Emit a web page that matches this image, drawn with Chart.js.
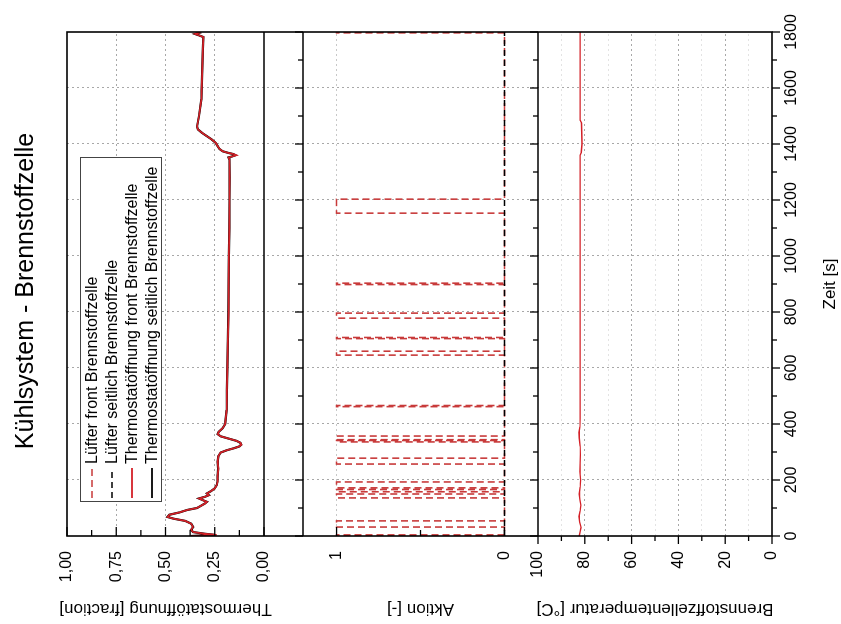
<!DOCTYPE html>
<html>
<head>
<meta charset="utf-8">
<script src="https://cdn.jsdelivr.net/npm/chart.js@4/dist/chart.umd.min.js"></script>
<style>
  html, body { margin: 0; padding: 0; background: #fff; overflow: hidden; }
  /* The figure is laid out upright (time running left to right) and then turned a quarter turn counter-clockwise */
  #stage {
    position: absolute; left: 0; top: 0; width: 624px; height: 841px;
    transform-origin: 0 0; transform: translate(0px, 624px) rotate(-90deg);
    font-family: "Liberation Sans", Arial, sans-serif; color: #000;
  }
  #c { position: absolute; left: 0; top: 0; }
  #titel {
    position: absolute; left: 133px; width: 400px; top: 9px;
    text-align: center; font-size: 25px; line-height: 30px; white-space: nowrap;
  }
  #legende {
    position: absolute; left: 122px; top: 80px; width: 345px; height: 82px;
    border: 1px solid #444; background: #fff; box-sizing: border-box; padding-top: 1px;
  }
  .eintrag { height: 20px; display: flex; align-items: center; font-size: 16px; white-space: nowrap; }
  .eintrag svg { margin-left: 3px; margin-right: 4px; flex: none; }
</style>
</head>
<body>
<div id="stage">
  <canvas id="c" width="624" height="841"></canvas>
  <div id="titel">Kühlsystem - Brennstoffzelle</div>
  <div id="legende"></div>
</div>
<script>
// ---- Messdaten ----
// Thermostatöffnung [fraction] über der Zeit [s]
const thermoZeit = [0, 4, 8, 14, 22, 32, 44, 54, 62, 68, 76, 84, 93, 100, 108, 116, 122, 128, 134, 140, 146, 152, 160, 170, 182, 195, 215, 240, 265, 285, 298, 306, 314, 320, 326, 333, 340, 348, 356, 364, 372, 385, 400, 450, 520, 600, 700, 800, 900, 1000, 1100, 1200, 1280, 1345, 1352, 1356, 1360, 1364, 1368, 1374, 1382, 1392, 1404, 1416, 1428, 1440, 1452, 1462, 1500, 1560, 1620, 1680, 1740, 1782, 1788, 1793, 1797, 1800];
const thermoFront = [0.37, 0.24, 0.30, 0.36, 0.37, 0.36, 0.37, 0.40, 0.46, 0.49, 0.48, 0.43, 0.39, 0.34, 0.32, 0.30, 0.29, 0.31, 0.33, 0.30, 0.28, 0.29, 0.27, 0.25, 0.24, 0.235, 0.235, 0.232, 0.235, 0.232, 0.22, 0.19, 0.15, 0.125, 0.115, 0.12, 0.14, 0.18, 0.22, 0.235, 0.23, 0.21, 0.197, 0.19, 0.188, 0.186, 0.183, 0.18, 0.18, 0.178, 0.176, 0.175, 0.175, 0.176, 0.18, 0.16, 0.14, 0.155, 0.18, 0.21, 0.225, 0.235, 0.245, 0.265, 0.29, 0.315, 0.335, 0.34, 0.33, 0.318, 0.315, 0.313, 0.31, 0.308, 0.33, 0.35, 0.33, 0.34];
const thermoSeitlich = [0.37, 0.25, 0.30, 0.36, 0.37, 0.36, 0.37, 0.40, 0.46, 0.49, 0.48, 0.43, 0.39, 0.34, 0.32, 0.30, 0.29, 0.31, 0.33, 0.30, 0.28, 0.29, 0.27, 0.25, 0.24, 0.236, 0.235, 0.233, 0.235, 0.232, 0.22, 0.19, 0.15, 0.125, 0.116, 0.12, 0.14, 0.18, 0.22, 0.235, 0.23, 0.21, 0.197, 0.19, 0.188, 0.186, 0.183, 0.181, 0.18, 0.178, 0.176, 0.175, 0.175, 0.176, 0.18, 0.16, 0.145, 0.155, 0.18, 0.21, 0.225, 0.235, 0.245, 0.265, 0.29, 0.315, 0.335, 0.34, 0.33, 0.318, 0.315, 0.313, 0.31, 0.308, 0.33, 0.35, 0.33, 0.34];

// Lüfter: Schaltzustand (0 = aus, 1 = an) ab dem jeweiligen Zeitpunkt
const luefterZeit  = [0, 0, 4, 32, 54, 136, 150, 158, 166, 172, 193, 257, 278, 336, 341, 344, 357, 462, 466, 646, 660, 705, 709, 778, 796, 898, 903, 1153, 1203, 1797, 1800];
const luefterFront = [0, 1, 0, 1, 0, 1, 0, 1, 0, 1, 0, 1, 0, 1, 0, 1, 0, 1, 0, 1, 0, 1, 0, 1, 0, 1, 0, 1, 0, 1, 0];
const luefterSeitlichZeit = [0, 1800];
const luefterSeitlich = [0, 0];

// Brennstoffzellentemperatur [°C]
const tempZeit = [0, 15, 30, 50, 70, 90, 110, 130, 150, 175, 200, 230, 260, 290, 320, 350, 370, 390, 420, 500, 700, 900, 1100, 1300, 1360, 1370, 1400, 1440, 1475, 1485, 1600, 1800];
const tempWert = [82.4, 82.0, 81.6, 82.2, 82.5, 82.0, 81.7, 82.1, 82.4, 82.0, 81.8, 82.1, 82.0, 81.9, 82.0, 82.4, 82.5, 82.1, 82.0, 82.0, 82.0, 82.0, 82.0, 82.0, 82.0, 81.5, 81.2, 81.3, 81.4, 82.0, 82.0, 82.0];

// ---- Darstellung ----
const ROT = '#d42027';
const LUEFTER_ROT = '#c83a3a';
const FONT = '"Liberation Sans", Arial, sans-serif';
const GRID = '#a8a8a8';

const punkte = (xs, ys) => xs.map((x, i) => ({ x, y: ys[i] }));

const serien = [
  { label: 'Lüfter front Brennstoffzelle', farbe: LUEFTER_ROT, dash: [7, 4], breite: 1.6 },
  { label: 'Lüfter seitlich Brennstoffzelle', farbe: '#000', dash: [6, 4], breite: 1.6 },
  { label: 'Thermostatöffnung front Brennstoffzelle', farbe: ROT, dash: [], breite: 1.8 },
  { label: 'Thermostatöffnung seitlich Brennstoffzelle', farbe: '#000', dash: [], breite: 1.8 }
];

// Legende als Kasten im oberen Diagramm
const legende = document.getElementById('legende');
serien.forEach(s => {
  const row = document.createElement('div');
  row.className = 'eintrag';
  const svgNS = 'http://www.w3.org/2000/svg';
  const svg = document.createElementNS(svgNS, 'svg');
  svg.setAttribute('width', '30'); svg.setAttribute('height', '10');
  const ln = document.createElementNS(svgNS, 'line');
  ln.setAttribute('x1', '0'); ln.setAttribute('y1', '5'); ln.setAttribute('x2', '30'); ln.setAttribute('y2', '5');
  ln.setAttribute('stroke', s.farbe); ln.setAttribute('stroke-width', s.breite);
  if (s.dash.length) ln.setAttribute('stroke-dasharray', s.dash.join(','));
  svg.appendChild(ln);
  row.appendChild(svg);
  const span = document.createElement('span');
  span.textContent = s.label;
  row.appendChild(span);
  legende.appendChild(row);
});

// Rahmen der drei Teildiagramme und Teilstriche
const rahmen = {
  id: 'rahmen',
  afterDatasetsDraw(chart) {
    const { ctx, chartArea: a, scales } = chart;
    const x = scales.x, yT = scales.yThermo, yA = scales.yAktion, yC = scales.yTemp;
    ctx.save();
    ctx.setLineDash([]);
    ctx.strokeStyle = '#000';
    const line = (x1, y1, x2, y2) => { ctx.beginPath(); ctx.moveTo(x1, y1); ctx.lineTo(x2, y2); ctx.stroke(); };

    // Zeitachse: Teilstriche alle 100 s, nach außen
    ctx.lineWidth = 1.3;
    for (let t = 0; t <= 1800; t += 100) {
      const px = x.getPixelForValue(t);
      const len = t % 200 === 0 ? 8 : 5;
      line(px, yC.bottom, px, yC.bottom + len);
      line(px, yC.top, px, yC.top - len);
      line(px, yA.top, px, yA.top - len);
    }
    // Thermostatöffnung: nach innen
    for (let i = 0; i <= 8; i++) {
      const py = yT.getPixelForValue(i / 8);
      line(a.left, py, a.left + (i % 2 === 0 ? 9 : 6), py);
    }
    // Aktion
    [0, 0.5, 1].forEach(v => {
      const py = yA.getPixelForValue(v);
      line(a.left, py, a.left + (v === 0.5 ? 6 : 9), py);
    });
    // Temperatur: nach außen
    for (let v = 0; v <= 100; v += 10) {
      const py = yC.getPixelForValue(v);
      line(a.left - (v % 20 === 0 ? 8 : 5), py, a.left, py);
    }

    // Rahmen
    ctx.lineWidth = 1.6;
    ctx.strokeRect(a.left, a.top, a.right - a.left, a.bottom - a.top);
    line(a.left, yT.bottom, a.right, yT.bottom);
    line(a.left, yA.top, a.right, yA.top);
    line(a.left, yA.bottom, a.right, yA.bottom);
    ctx.restore();
  }
};

const tickFont = { family: FONT, size: 16 };
const titleFont = { family: FONT, size: 17 };
const fixBreite = s => { s.width = 88; };

new Chart(document.getElementById('c'), {
  type: 'line',
  data: {
    datasets: [
      { label: serien[3].label, data: punkte(thermoZeit, thermoSeitlich), yAxisID: 'yThermo',
        borderColor: serien[3].farbe, borderWidth: 2.2, order: 5 },
      { label: serien[2].label, data: punkte(thermoZeit, thermoFront), yAxisID: 'yThermo',
        borderColor: serien[2].farbe, borderWidth: 1.7, order: 4 },
      { label: serien[0].label, data: punkte(luefterZeit, luefterFront), yAxisID: 'yAktion',
        borderColor: serien[0].farbe, borderWidth: 1.6, borderDash: serien[0].dash, stepped: 'before', order: 3 },
      { label: serien[1].label, data: punkte(luefterSeitlichZeit, luefterSeitlich), yAxisID: 'yAktion',
        borderColor: serien[1].farbe, borderWidth: 1.6, borderDash: serien[1].dash, order: 2 },
      { label: 'Brennstoffzellentemperatur', data: punkte(tempZeit, tempWert), yAxisID: 'yTemp',
        borderColor: ROT, borderWidth: 1.4, order: 1 }
    ]
  },
  options: {
    responsive: false,
    animation: false,
    devicePixelRatio: 1,
    layout: { padding: { top: 67, right: 32, left: 0, bottom: 0 } },
    elements: { point: { radius: 0 }, line: { tension: 0, fill: false } },
    plugins: { legend: { display: false }, tooltip: { enabled: false }, title: { display: false } },
    scales: {
      x: {
        type: 'linear', min: 0, max: 1800,
        ticks: { stepSize: 200, font: tickFont, color: '#000', padding: 10, maxRotation: 0,
          callback: v => String(v) },
        grid: { drawTicks: false, lineWidth: 1,
          color: c => (c.tick && c.tick.value > 0 && c.tick.value < 1800) ? GRID : 'transparent' },
        border: { display: false, dash: [2, 3] },
        title: { display: true, text: 'Zeit [s]', font: titleFont, color: '#000', padding: { top: 0, bottom: 0 } },
        afterFit: s => { s.height = 69; }
      },
      yThermo: {
        type: 'linear', position: 'left', stack: 'panels', stackWeight: 197, weight: 4,
        min: 0, max: 1,
        ticks: { stepSize: 0.125, font: tickFont, color: '#000', padding: 15, autoSkip: false,
          callback: v => Math.abs(v * 4 - Math.round(v * 4)) < 1e-6 ? v.toFixed(2).replace('.', ',') : '' },
        grid: { drawTicks: false,
          color: c => { const v = c.tick && c.tick.value; return [0.25, 0.5, 0.75].some(g => Math.abs(g - v) < 1e-6) ? GRID : 'transparent'; } },
        border: { display: false, dash: [2, 3] },
        title: { display: true, text: 'Thermostatöffnung [fraction]', font: titleFont, color: '#000', padding: { top: 5, bottom: 0 } },
        afterFit: fixBreite
      },
      yGap: {
        type: 'linear', position: 'left', stack: 'panels', stackWeight: 39, weight: 3,
        min: 0, max: 1,
        ticks: { display: false }, grid: { display: false }, border: { display: false },
        afterFit: fixBreite
      },
      yAktion: {
        type: 'linear', position: 'left', stack: 'panels', stackWeight: 235, weight: 2,
        min: -0.2, max: 1.2,
        afterBuildTicks: s => { s.ticks = [{ value: 0 }, { value: 1 }]; },
        ticks: { font: tickFont, color: '#000', padding: 15, autoSkip: false, callback: v => String(Math.round(v)) },
        grid: { drawTicks: false, color: c => (c.tick && c.tick.value === 1) ? '#c8c8c8' : 'transparent' },
        border: { display: false, dash: [2, 3] },
        title: { display: true, text: 'Aktion [-]', font: titleFont, color: '#000', padding: { top: 5, bottom: 0 } },
        afterFit: fixBreite
      },
      yTemp: {
        type: 'linear', position: 'left', stack: 'panels', stackWeight: 234, weight: 1,
        min: 0, max: 100,
        ticks: { stepSize: 10, font: tickFont, color: '#000', padding: 15, autoSkip: false,
          callback: v => v % 20 === 0 ? String(v) : '' },
        grid: { drawTicks: false,
          color: c => { const v = c.tick && c.tick.value; if (!(v > 0 && v < 100)) return 'transparent'; return v % 20 === 0 ? GRID : '#e3e3e3'; } },
        border: { display: false, dash: [2, 3] },
        title: { display: true, text: 'Brennstoffzellentemperatur [°C]', font: titleFont, color: '#000', padding: { top: 5, bottom: 0 } },
        afterFit: fixBreite
      }
    }
  },
  plugins: [rahmen]
});
</script>
</body>
</html>
